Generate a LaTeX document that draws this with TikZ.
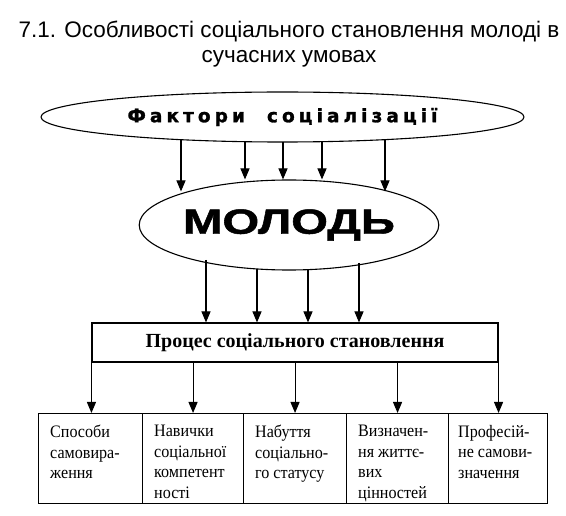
\documentclass[tikz,border=0pt]{standalone}
\usepackage{fontspec}
\usepackage{graphicx}
\usetikzlibrary{arrows.meta,shapes.geometric,calc}
\setmainfont{Liberation Serif}
\newfontfamily\arial{Liberation Sans}
\newfontfamily\narrowserif{Liberation Serif}[FakeStretch=0.92]
\newfontfamily\heavy{DejaVu Sans}[LetterSpace=22,FakeBold=1.5]
\newfontfamily\heavysans{Liberation Sans}[UprightFont={* Bold},FakeBold=1.2]
\begin{document}
\begin{tikzpicture}[x=1pt,y=-1pt,
  arr/.style={line width=1.1pt,-{Triangle[length=11pt,width=9pt]}},
  box/.style={draw,line width=1.1pt,rectangle,inner sep=0pt},
  oval/.style={draw,line width=1.1pt,ellipse,inner sep=0pt},
  boxtext/.style={anchor=north west,inner sep=0pt,align=left,font=\narrowserif\fontsize{17.5}{20.5}\selectfont},
  titletext/.style={anchor=base,inner sep=0pt,font=\arial\fontsize{22.5}{25}\selectfont}]
\useasboundingbox (0,0) rectangle (566,516);
\node[titletext] (t1) at (289,38) {7.1. Особливості соціального становлення молоді в};
\node[titletext] (t2) at (289,63) {сучасних умовах};

\node[oval,minimum width=483pt,minimum height=50pt] (F) at (282.5,117)
  {\heavy\bfseries\fontsize{18.5}{20}\selectfont Фактори\hspace{22pt}соціалізації};
\node[oval,minimum width=262pt,minimum height=90pt] (M) at (289,225)
  {\scalebox{1.35}[1]{\heavysans\fontsize{35}{40}\selectfont МОЛОДЬ}};
\node[box,minimum width=406pt,minimum height=39pt] (P) at (295,342.5)
  {\bfseries\fontsize{20}{24}\selectfont Процес соціального становлення};

\node[box,anchor=north west,minimum width=104pt,minimum height=90pt] (b1) at (38,413) {};
\node[box,anchor=north west,minimum width=101pt,minimum height=90pt] (b2) at (142,413) {};
\node[box,anchor=north west,minimum width=103pt,minimum height=90pt] (b3) at (243,413) {};
\node[box,anchor=north west,minimum width=102pt,minimum height=90pt] (b4) at (346,413) {};
\node[box,anchor=north west,minimum width=99pt,minimum height=90pt] (b5) at (448,413) {};

\node[boxtext] (l1) at ($(b1.north west)+(12,12)$) {Способи\\самовира-\\ження};
\node[boxtext] (l2) at ($(b2.north west)+(12,12)$) {Навички\\соціальної\\компетент\\ності};
\node[boxtext] (l3) at ($(b3.north west)+(12,12)$) {Набуття\\соціально-\\го статусу};
\node[boxtext] (l4) at ($(b4.north west)+(12,12)$) {Визначен-\\ня життє-\\вих\\цінностей};
\node[boxtext] (l5) at ($(b5.north west)+(10,12)$) {Професій-\\не самови-\\значення};

% factor arrows
\coordinate (f1) at (181,139.7);
\coordinate (f2) at (245,141.7);
\coordinate (f3) at (283,142);
\coordinate (f4) at (322,141.7);
\coordinate (f5) at (385,139.6);
\draw[arr] (f1) -- ($(M.north -| f1)+(0,12)$);
\draw[arr] (f2) -- (M.north -| f2);
\draw[arr] (f3) -- (M.north -| f3);
\draw[arr] (f4) -- (M.north -| f4);
\draw[arr] (f5) -- ($(M.north -| f5)+(0,12)$);

% youth arrows
\coordinate (m1) at (206,259.8);
\coordinate (m2) at (257,268.6);
\coordinate (m3) at (308,269.5);
\coordinate (m4) at (359,263.0);
\foreach \c in {m1,m2,m3,m4} \draw[arr] (\c) -- (P.north -| \c);

% process arrows
\draw[arr] (P.south west) -- (P.south west |- b1.north);
\draw[arr] (P.south -| b2.north) -- (b2.north);
\draw[arr] (P.south -| b3.north) -- (b3.north);
\draw[arr] (P.south -| b4.north) -- (b4.north);
\draw[arr] (P.south east) -- (P.south east |- b5.north);
\end{tikzpicture}
\end{document}
